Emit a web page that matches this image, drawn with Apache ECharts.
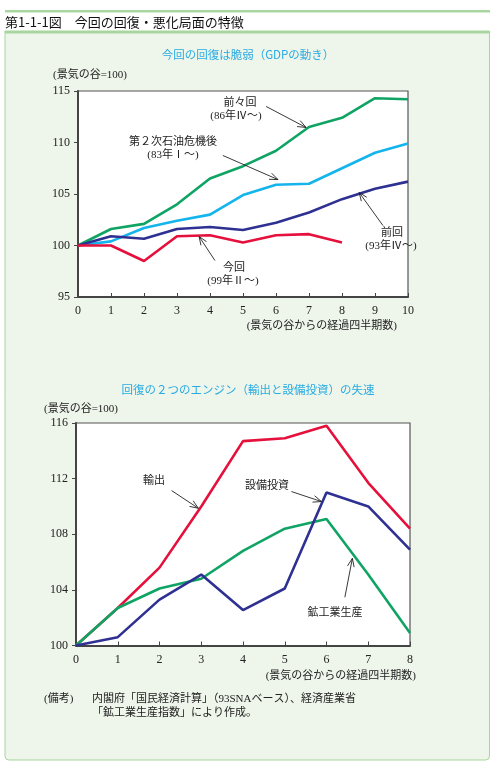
<!DOCTYPE html>
<html>
<head>
<meta charset="utf-8">
<script src="https://cdn.jsdelivr.net/npm/echarts@6/dist/echarts.min.js"></script>
<style>
html,body{margin:0;padding:0;background:#fff;}
#chart{width:496px;height:769px;}
</style>
</head>
<body>
<div id="chart"></div>
<script>
// ---- Data: top chart (GDP) ----
const topQuarters = [0,1,2,3,4,5,6,7,8,9,10];
const gdpZenzenkai = [100,101.6,102.1,104.0,106.5,107.7,109.2,111.5,112.4,114.3,114.2]; // 前々回 (86年Ⅳ～)
const gdpOilShock  = [100,100.4,101.7,102.4,103.0,104.9,105.9,106.0,107.5,109.0,109.9]; // 第2次石油危機後 (83年Ⅰ～)
const gdpZenkai    = [100,100.9,100.65,101.6,101.8,101.5,102.2,103.2,104.5,105.5,106.2]; // 前回 (93年Ⅳ～)
const gdpKonkai    = [100,100.0,98.5,100.9,101.0,100.3,101.0,101.1,100.3];                 // 今回 (99年Ⅱ～)
const topYTicks = [95,100,105,110,115];

// ---- Data: bottom chart (engines) ----
const botQuarters = [0,1,2,3,4,5,6,7,8];
const exportsIdx = [100,102.7,105.6,110.0,114.7,114.9,115.8,111.7,108.4]; // 輸出
const capexIdx   = [100,100.6,103.3,105.1,102.55,104.1,111.0,110.0,106.9]; // 設備投資
const miningIdx  = [100,102.7,104.1,104.8,106.8,108.4,109.1,105.1,100.9]; // 鉱工業生産
const botYTicks = [100,104,108,112,116];

// ---- Annotation arrows (data units: x1,y1 -> x2,y2) ----
const topArrows = [[5.70,113.5,6.91,111.46],[4.39,108.74,6.06,106.4],[9.24,101.94,8.52,105.15],[4.15,98.54,3.67,100.87]];
const botArrows = [[2.29,111.14,2.93,109.87],[5.16,111.07,5.88,110.35],[6.44,103.47,6.62,106.27]];

const pairs = (xs, ys) => ys.map((v,i)=>[xs[i], v]);

const C_GREEN = '#0fa464', C_CYAN = '#14b4ec', C_NAVY = '#2e3192', C_RED = '#e5103c';
const SERIF = "'Liberation Serif', 'Times New Roman', 'Noto Sans CJK JP', serif";
const SANS = "'Noto Sans CJK JP', sans-serif";
const FRAME = '#e6ece3';

function arrowItem(params, api){
  const p1 = api.coord([api.value(0), api.value(1)]);
  const p2 = api.coord([api.value(2), api.value(3)]);
  const ang = Math.atan2(p2[1]-p1[1], p2[0]-p1[0]);
  const L = 9, a = 0.38;
  const h1 = [p2[0]-L*Math.cos(ang-a), p2[1]-L*Math.sin(ang-a)];
  const h2 = [p2[0]-L*Math.cos(ang+a), p2[1]-L*Math.sin(ang+a)];
  return {type:'group', children:[
    {type:'line', shape:{x1:p1[0],y1:p1[1],x2:p2[0],y2:p2[1]}, style:{stroke:'#222', lineWidth:0.9}},
    {type:'polyline', shape:{points:[h1,p2,h2]}, style:{stroke:'#222', fill:null, lineWidth:0.9}}
  ]};
}

function lineSeries(name, xs, ys, color, idx){
  return {name, type:'line', xAxisIndex:idx, yAxisIndex:idx, data:pairs(xs, ys),
    showSymbol:false, symbol:'none', lineStyle:{color, width:2.6}, itemStyle:{color}, z:3, animation:false};
}

function yAx(idx, min, max, interval){
  return {type:'value', gridIndex:idx, min, max, interval,
    axisLine:{show:true, lineStyle:{color:'#444', width:2}},
    axisTick:{show:true, inside:false, length:4, lineStyle:{color:'#444', width:1}},
    axisLabel:{color:'#222', fontFamily:SERIF, fontSize:12, margin:8},
    splitLine:{show:false}};
}
function xAx(idx, max){
  return {type:'value', gridIndex:idx, min:0, max, interval:1,
    axisLine:{show:true, lineStyle:{color:'#444', width:2}},
    axisTick:{show:true, inside:true, length:4, lineStyle:{color:'#444', width:1}},
    axisLabel:{color:'#222', fontFamily:SERIF, fontSize:12, margin:8},
    splitLine:{show:false}};
}

function txt(x, y, text, opts){
  return Object.assign({type:'text', x, y, style:Object.assign({text, fill:'#222', font:"11px "+SERIF, align:'center', verticalAlign:'middle'}, opts||{}), z:10});
}

const chart = echarts.init(document.getElementById('chart'), null, {renderer:'canvas'});
chart.setOption({
  backgroundColor:'#ffffff',
  animation:false,
  grid:[
    {left:78, top:91, width:330, height:206, show:true, backgroundColor:'#ffffff', borderColor:'#555', borderWidth:1.2},
    {left:76, top:423, width:334, height:222.5, show:true, backgroundColor:'#ffffff', borderColor:'#555', borderWidth:1.2}
  ],
  xAxis:[xAx(0,10), xAx(1,8)],
  yAxis:[yAx(0,95,115,5), yAx(1,100,116,4)],
  series:[
    lineSeries('前々回', topQuarters, gdpZenzenkai, C_GREEN, 0),
    lineSeries('第2次石油危機後', topQuarters, gdpOilShock, C_CYAN, 0),
    lineSeries('前回', topQuarters, gdpZenkai, C_NAVY, 0),
    lineSeries('今回', topQuarters, gdpKonkai, C_RED, 0),
    lineSeries('輸出', botQuarters, exportsIdx, C_RED, 1),
    lineSeries('鉱工業生産', botQuarters, miningIdx, C_GREEN, 1),
    lineSeries('設備投資', botQuarters, capexIdx, C_NAVY, 1),
    {type:'custom', xAxisIndex:0, yAxisIndex:0, renderItem:arrowItem, data:topArrows, encode:{x:[0,2], y:[1,3]}, clip:false, z:5, silent:true},
    {type:'custom', xAxisIndex:1, yAxisIndex:1, renderItem:arrowItem, data:botArrows, encode:{x:[0,2], y:[1,3]}, clip:false, z:5, silent:true}
  ],
  graphic:[
    // background box and stripes
    {type:'rect', shape:{x:5, y:31, width:484.5, height:729, r:[0,0,4,4]}, style:{fill:'#eef5ea', stroke:'#a9d59e', lineWidth:1}, z:-10},
    {type:'rect', shape:{x:5, y:10, width:485, height:2.5}, style:{fill:'#a9d59e'}, z:-9},
    {type:'rect', shape:{x:5, y:31, width:485, height:2.5}, style:{fill:'#a9d59e'}, z:-9},
    txt(5, 22, '第1-1-1図　今回の回復・悪化局面の特徴', {align:'left', font:"13px "+SANS, fill:'#111'}),
    // chart titles
    txt(248, 55, '今回の回復は脆弱（GDPの動き）', {font:"11.5px "+SANS, fill:'#29abe2'}),
    txt(248, 390, '回復の２つのエンジン（輸出と設備投資）の失速', {font:"11.5px "+SANS, fill:'#29abe2'}),
    // axis names
    txt(53, 75, '(景気の谷=100)', {align:'left'}),
    txt(397, 326, '(景気の谷からの経過四半期数)', {align:'right'}),
    txt(44, 409, '(景気の谷=100)', {align:'left'}),
    txt(416, 676, '(景気の谷からの経過四半期数)', {align:'right'}),
    // top annotations
    txt(240, 103, '前々回'),
    txt(236, 116, '(86年Ⅳ～)'),
    txt(173, 142, '第２次石油危機後'),
    txt(173, 155, '(83年Ⅰ～)'),
    txt(392, 233, '前回'),
    txt(391, 246, '(93年Ⅳ～)'),
    txt(234, 268, '今回'),
    txt(233, 281, '(99年Ⅱ～)'),
    // bottom annotations
    txt(154, 481, '輸出'),
    txt(267, 486, '設備投資'),
    txt(335, 613, '鉱工業生産'),
    // footnote
    txt(44, 699, '(備考)', {align:'left'}),
    txt(92, 699, '内閣府「国民経済計算」（93SNAベース）、経済産業省', {align:'left'}),
    txt(92, 713, '「鉱工業生産指数」により作成。', {align:'left'})
  ]
});
</script>
</body>
</html>
